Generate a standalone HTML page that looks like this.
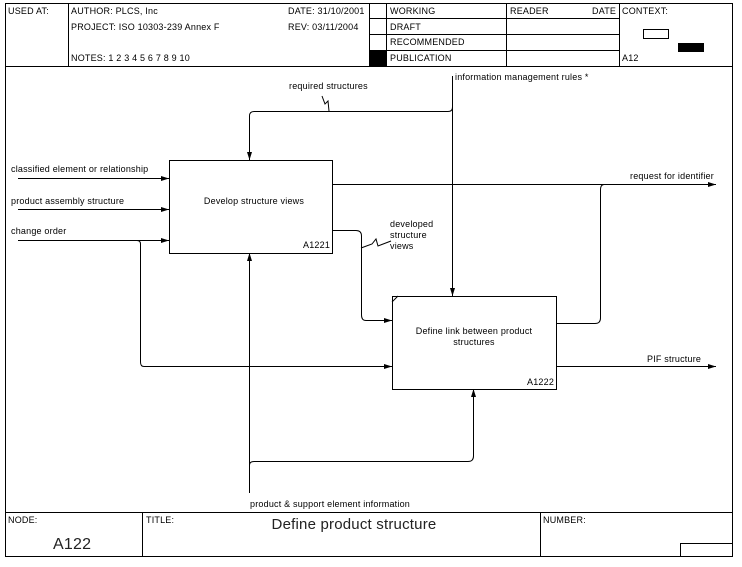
<!DOCTYPE html>
<html><head><meta charset="utf-8"><style>
html,body{margin:0;padding:0;background:#fff;}
svg{display:block;font-family:"Liberation Sans",Arial,sans-serif;}
text{font-size:9px;fill:#000;letter-spacing:0.2px;}
</style></head><body>
<svg width="742" height="567" viewBox="0 0 742 567" xmlns="http://www.w3.org/2000/svg">
<defs>
<marker id="a" markerWidth="8" markerHeight="6" refX="8" refY="3" orient="auto" markerUnits="userSpaceOnUse">
<path d="M0,0.5 L8,3 L0,5.5 z" fill="#000"/></marker>
</defs>
<g fill="none" stroke="#000" stroke-width="1">
<rect x="5.5" y="3.5" width="727" height="553"/>
<line x1="5" y1="66.5" x2="732" y2="66.5"/>
<line x1="5" y1="512.5" x2="732" y2="512.5"/>
<line x1="68.5" y1="3" x2="68.5" y2="66"/>
<line x1="369.5" y1="3" x2="369.5" y2="66"/>
<line x1="386.5" y1="3" x2="386.5" y2="66"/>
<line x1="506.5" y1="3" x2="506.5" y2="66"/>
<line x1="619.5" y1="3" x2="619.5" y2="66"/>
<line x1="369" y1="18.5" x2="619" y2="18.5"/>
<line x1="369" y1="34.5" x2="619" y2="34.5"/>
<line x1="369" y1="50.5" x2="619" y2="50.5"/>
<rect x="643.5" y="29.5" width="25" height="9"/>
<line x1="142.5" y1="512" x2="142.5" y2="556"/>
<line x1="540.5" y1="512" x2="540.5" y2="556"/>
<rect x="680.5" y="543.5" width="52" height="13"/>
<rect x="169.5" y="160.5" width="163" height="93"/>
<rect x="392.5" y="296.5" width="164" height="93"/>
<line x1="392" y1="302" x2="398" y2="296"/>
</g>
<rect x="369" y="51" width="17" height="15" fill="#000"/>
<rect x="678" y="43" width="26" height="9" fill="#000"/>
<g fill="none" stroke="#000" stroke-width="1">
<path d="M452.5,76 V296" marker-end="url(#a)"/>
<path d="M452.5,107 Q452.5,111.5 448,111.5 H254 Q249.5,111.5 249.5,116 V160" marker-end="url(#a)"/>
<path d="M322,96 L325,104 L328,101 L329,111"/>
<path d="M18,178.5 H169" marker-end="url(#a)"/>
<path d="M18,209.5 H169" marker-end="url(#a)"/>
<path d="M18,240.5 H169" marker-end="url(#a)"/>
<path d="M137,240.5 Q140.5,240.5 140.5,244 V362 Q140.5,366.5 144,366.5 H392" marker-end="url(#a)"/>
<path d="M332,184.5 H716" marker-end="url(#a)"/>
<path d="M556,323.5 H595 Q600.5,323.5 600.5,318 V190 Q600.5,184.5 604,184.5"/>
<path d="M332,230.5 H356 Q361.5,230.5 361.5,236 V315 Q361.5,320.5 366,320.5 H392" marker-end="url(#a)"/>
<path d="M361,248 L372,244 L376,239 L378,246 L391,241"/>
<path d="M556,366.5 H716" marker-end="url(#a)"/>
<path d="M249.5,493 V253" marker-end="url(#a)"/>
<path d="M249.5,465 Q249.5,461.5 254,461.5 H468 Q473.5,461.5 473.5,456 V389" marker-end="url(#a)"/>
</g>
<text x="8" y="14">USED AT:</text>
<text x="71" y="14">AUTHOR:  PLCS, Inc</text>
<text x="71" y="30">PROJECT:  ISO 10303-239 Annex F</text>
<text x="71" y="61">NOTES:  1  2  3  4  5  6  7  8  9  10</text>
<text x="288" y="14">DATE: 31/10/2001</text>
<text x="288" y="30">REV:   03/11/2004</text>
<text x="390" y="14">WORKING</text>
<text x="390" y="30">DRAFT</text>
<text x="390" y="45">RECOMMENDED</text>
<text x="390" y="61">PUBLICATION</text>
<text x="510" y="14">READER</text>
<text x="592" y="14">DATE</text>
<text x="622" y="14">CONTEXT:</text>
<text x="622" y="61">A12</text>
<text x="8" y="523">NODE:</text>
<text x="53" y="549" style="font-size:16px;fill:#222">A122</text>
<text x="146" y="523">TITLE:</text>
<text x="354" y="529" text-anchor="middle" style="font-size:15px;fill:#222">Define product structure</text>
<text x="543" y="523">NUMBER:</text>
<text x="289" y="89">required structures</text>
<text x="455" y="80">information management rules *</text>
<text x="11" y="172">classified element or relationship</text>
<text x="11" y="204">product assembly structure</text>
<text x="11" y="234">change order</text>
<text x="630" y="179">request for identifier</text>
<text x="647" y="362">PIF structure</text>
<text x="390" y="227">developed</text>
<text x="390" y="238">structure</text>
<text x="390" y="249">views</text>
<text x="250" y="507">product &amp; support element information</text>
<text x="254" y="204" text-anchor="middle">Develop structure views</text>
<text x="303" y="248">A1221</text>
<text x="474" y="334" text-anchor="middle">Define link between product</text>
<text x="474" y="345" text-anchor="middle">structures</text>
<text x="527" y="385">A1222</text>
</svg>
</body></html>
